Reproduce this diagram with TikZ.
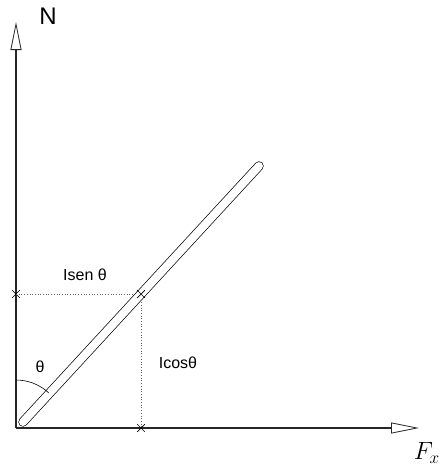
\documentclass[tikz,border=0pt]{standalone}
\usepackage{fontspec}
\setmainfont{Liberation Sans}
\usetikzlibrary{arrows.meta,shapes.misc,calc}

\begin{document}
\begin{tikzpicture}[x=1pt,y=-1pt,
    axis/.style={line width=1.8pt,draw=black!85,-{Triangle[open,length=28pt,width=11pt,line width=0.8pt]}},
    guide/.style={dotted,draw=black!60,line width=0.7pt},
    xmark/.style={cross out,draw,line width=0.7pt,minimum size=7pt,inner sep=0pt},
    lbl/.style={font=\fontsize{16}{18}\selectfont}]
  \useasboundingbox (0,0) rectangle (441,472);
  % axes
  \coordinate (O) at (16,428);
  \coordinate (ytop) at (16,22);
  \coordinate (xend) at (419,428);
  \draw[axis] (O) -- (ytop);
  \draw[axis] (O) -- (xend);
  \node[font=\fontsize{24}{28}\selectfont] (N) at (48,16) {N};
  \node[anchor=east,inner sep=1pt,font=\fontsize{25}{30}\selectfont] (Fx) at (441,453) {$F_x$};
  % projections
  \node[xmark] (P) at (141,294) {};
  \node[xmark] (Py) at (16,294) {};
  \node[xmark] (Px) at (141,428) {};
  \draw[guide] (Py.center) -- (P.center);
  \draw[guide] (P.center) -- (Px.center);
  % rod
  \coordinate (rodA) at (23,422);
  \coordinate (rodB) at (259,166);
  \draw[double=white,double distance=8pt,line width=0.7pt,line cap=round] (rodA) -- (rodB);
  \node[xmark] at (P) {};
  % angle
  \draw[line width=0.6pt] ($(O)+(0,-48)$) arc[start angle=-90,end angle=-47,radius=48];
  \node[lbl] (th) at (40,367) {θ};
  \node[lbl] (lsen) at (85,275) {Isen θ};
  \node[lbl] (lcos) at (178,363) {Icosθ};
\end{tikzpicture}
\end{document}
